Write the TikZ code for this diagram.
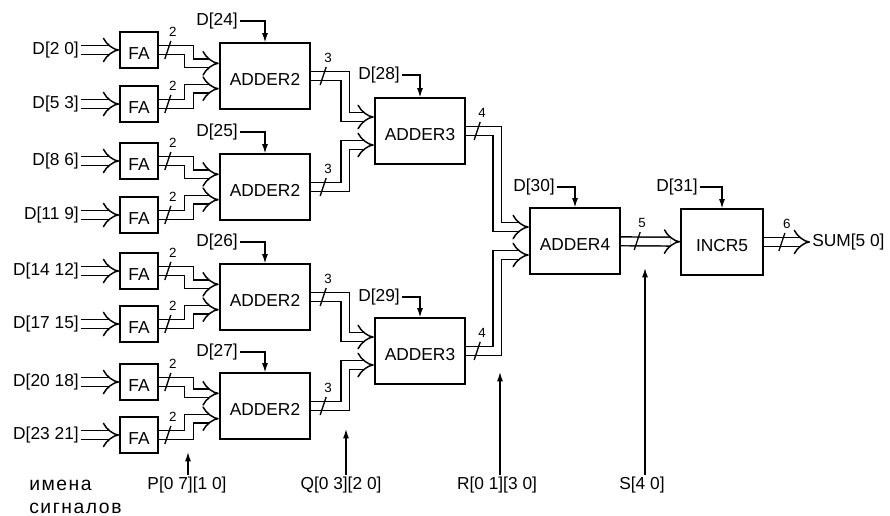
\documentclass[tikz,border=0pt]{standalone}
\usepackage{fontspec}
\setmainfont{Liberation Sans}
\newfontfamily\rusfont[LetterSpace=8]{Liberation Sans}
\usetikzlibrary{
  arrows.meta,
  positioning,
  calc
}

\begin{document}
\begin{tikzpicture}[
  x=0.75pt, y=-0.75pt,
  % Node styles
  fa/.style={
    rectangle,
    draw=black,
    line width=1.3pt,
    minimum width=28.5pt,
    minimum height=27pt,
    inner sep=0pt,
    text height=15pt,
    text depth=0pt,
    font=\fontsize{13}{15}\selectfont,
  },
  adder/.style={
    rectangle,
    draw=black,
    line width=1.3pt,
    minimum width=68pt,
    minimum height=49pt,
    inner sep=0pt,
    text height=14pt,
    text depth=0pt,
    font=\fontsize{13}{15}\selectfont,
  },
  sig/.style={
    font=\fontsize{13}{15}\selectfont,
    inner sep=1.5pt,
  },
  wlabel/.style={
    font=\fontsize{10}{11}\selectfont,
    inner sep=0pt,
  },
  bus/.style={
    double,
    double distance=5.5pt,
    line width=1.1pt,
    -{Implies[scale=1.8]},
  },
  ctl/.style={
    line width=1pt,
    -{Latex[length=7pt,width=4.5pt]},
  },
  buswidth/.pic={
    \draw[line width=1pt] (-3,9) -- (3,-9);
    \node[wlabel] at (5,-18) {\tikzpictext};
  },
]
\useasboundingbox (0,0) rectangle (890,516);

% ── Column 1: FA blocks ──
\node[fa] (fa1) at (139,50)  {FA};
\node[fa] (fa2) at (139,104) {FA};
\node[fa] (fa3) at (139,161) {FA};
\node[fa] (fa4) at (139,215) {FA};
\node[fa] (fa5) at (139,271) {FA};
\node[fa] (fa6) at (139,324) {FA};
\node[fa] (fa7) at (139,382) {FA};
\node[fa] (fa8) at (139,435) {FA};

% Input signals
\node[sig, anchor=east] (in1) at (81,50)  {D[2 0]};
\node[sig, anchor=east] (in2) at (81,104) {D[5 3]};
\node[sig, anchor=east] (in3) at (81,161) {D[8 6]};
\node[sig, anchor=east] (in4) at (81,215) {D[11 9]};
\node[sig, anchor=east] (in5) at (81,271) {D[14 12]};
\node[sig, anchor=east] (in6) at (81,324) {D[17 15]};
\node[sig, anchor=east] (in7) at (81,382) {D[20 18]};
\node[sig, anchor=east] (in8) at (81,435) {D[23 21]};

% ── Column 2: ADDER2 ──
\node[adder] (add2a) at (265,76)  {ADDER2};
\node[adder] (add2b) at (265,187) {ADDER2};
\node[adder] (add2c) at (265,297) {ADDER2};
\node[adder] (add2d) at (265,406) {ADDER2};

% ── Column 3: ADDER3 ──
\node[adder] (add3a) at (420,131) {ADDER3};
\node[adder] (add3b) at (420,351) {ADDER3};

% ── Column 4: ADDER4, INCR5 ──
\node[adder] (add4)  at (575,241) {ADDER4};
\node[adder, minimum width=61.5pt] (incr5) at (722,242) {INCR5};
\node[sig, anchor=west] (sum) at (810,242) {SUM[5 0]};

% Carry-in signals
\node[sig, anchor=east] (d24) at (240,21)  {D[24]};
\node[sig, anchor=east] (d25) at (240,132) {D[25]};
\node[sig, anchor=east] (d26) at (240,242) {D[26]};
\node[sig, anchor=east] (d27) at (240,352) {D[27]};
\node[sig, anchor=east] (d28) at (402,75)  {D[28]};
\node[sig, anchor=east] (d29) at (402,297) {D[29]};
\node[sig, anchor=east] (d30) at (557,187) {D[30]};
\node[sig, anchor=east] (d31) at (700,187) {D[31]};

% ── Arrows ──
% Inputs -> FA
\draw[bus] (in1) -- (fa1);
\draw[bus] (in2) -- (fa2);
\draw[bus] (in3) -- (fa3);
\draw[bus] (in4) -- (fa4);
\draw[bus] (in5) -- (fa5);
\draw[bus] (in6) -- (fa6);
\draw[bus] (in7) -- (fa7);
\draw[bus] (in8) -- (fa8);

% FA -> ADDER2
\draw[bus] (fa1.east) -- ++(30,0) |- ([yshift=9.5pt]add2a.west);
\draw[bus] (fa2.east) -- ++(30,0) |- ([yshift=-9.5pt]add2a.west);
\draw[bus] (fa3.east) -- ++(30,0) |- ([yshift=9.5pt]add2b.west);
\draw[bus] (fa4.east) -- ++(30,0) |- ([yshift=-9.5pt]add2b.west);
\draw[bus] (fa5.east) -- ++(30,0) |- ([yshift=9.5pt]add2c.west);
\draw[bus] (fa6.east) -- ++(30,0) |- ([yshift=-9.5pt]add2c.west);
\draw[bus] (fa7.east) -- ++(30,0) |- ([yshift=9.5pt]add2d.west);
\draw[bus] (fa8.east) -- ++(30,0) |- ([yshift=-9.5pt]add2d.west);

% ADDER2 -> ADDER3
\draw[bus] (add2a.east) -- ++(34,0) |- ([yshift=10.5pt]add3a.west);
\draw[bus] (add2b.east) -- ++(34,0) |- ([yshift=-10.5pt]add3a.west);
\draw[bus] (add2c.east) -- ++(34,0) |- ([yshift=10.5pt]add3b.west);
\draw[bus] (add2d.east) -- ++(34,0) |- ([yshift=-10.5pt]add3b.west);

% ADDER3 -> ADDER4 -> INCR5 -> SUM
\draw[bus] (add3a.east) -- ++(31,0) |- ([yshift=10.5pt]add4.west);
\draw[bus] (add3b.east) -- ++(31,0) |- ([yshift=-10.5pt]add4.west);
\draw[bus] (add4) -- (incr5);
\draw[bus] (incr5) -- (sum);

% Bus widths
\pic[pic text=2] at ($(fa1.east)+(9,0)$) {buswidth};
\pic[pic text=2] at ($(fa2.east)+(9,0)$) {buswidth};
\pic[pic text=2] at ($(fa3.east)+(9,0)$) {buswidth};
\pic[pic text=2] at ($(fa4.east)+(9,0)$) {buswidth};
\pic[pic text=2] at ($(fa5.east)+(9,0)$) {buswidth};
\pic[pic text=2] at ($(fa6.east)+(9,0)$) {buswidth};
\pic[pic text=2] at ($(fa7.east)+(9,0)$) {buswidth};
\pic[pic text=2] at ($(fa8.east)+(9,0)$) {buswidth};
\pic[pic text=3] at ($(add2a.east)+(12,0)$) {buswidth};
\pic[pic text=3] at ($(add2b.east)+(12,0)$) {buswidth};
\pic[pic text=3] at ($(add2c.east)+(12,0)$) {buswidth};
\pic[pic text=3] at ($(add2d.east)+(12,0)$) {buswidth};
\pic[pic text=4] at ($(add3a.east)+(11,0)$) {buswidth};
\pic[pic text=4] at ($(add3b.east)+(11,0)$) {buswidth};
\pic[pic text=5] at ($(add4.east)+(16,0)$) {buswidth};
\pic[pic text=6] at ($(incr5.east)+(18,0)$) {buswidth};

% Carry-in hooks
\draw[ctl] (d24.east) -| (add2a.north);
\draw[ctl] (d25.east) -| (add2b.north);
\draw[ctl] (d26.east) -| (add2c.north);
\draw[ctl] (d27.east) -| (add2d.north);
\draw[ctl] (d28.east) -| (add3a.north);
\draw[ctl] (d29.east) -| (add3b.north);
\draw[ctl] (d30.east) -| (add4.north);
\draw[ctl] (d31.east) -| (incr5.north);

% ── Signal names ──
\node[anchor=west, align=left, inner sep=0pt,
  font=\rusfont\fontsize{14.5}{17.5}\selectfont] (legend) at (29,497) {имена\\сигналов};
\node[sig] (pname) at (187,485) {P[0 7][1 0]};
\node[sig] (qname) at (341,485) {Q[0 3][2 0]};
\node[sig] (rname) at (497,485) {R[0 1][3 0]};
\node[sig] (sname) at (642,485) {S[4 0]};
\coordinate (ptap) at (188,452);
\coordinate (qtap) at (346,429);
\coordinate (rtap) at (500,372);
\coordinate (stap) at (645,268);
\draw[ctl] (ptap |- pname.north) -- (ptap);
\draw[ctl] (qtap |- qname.north) -- (qtap);
\draw[ctl] (rtap |- rname.north) -- (rtap);
\draw[ctl] (stap |- sname.north) -- (stap);

\end{tikzpicture}
\end{document}
